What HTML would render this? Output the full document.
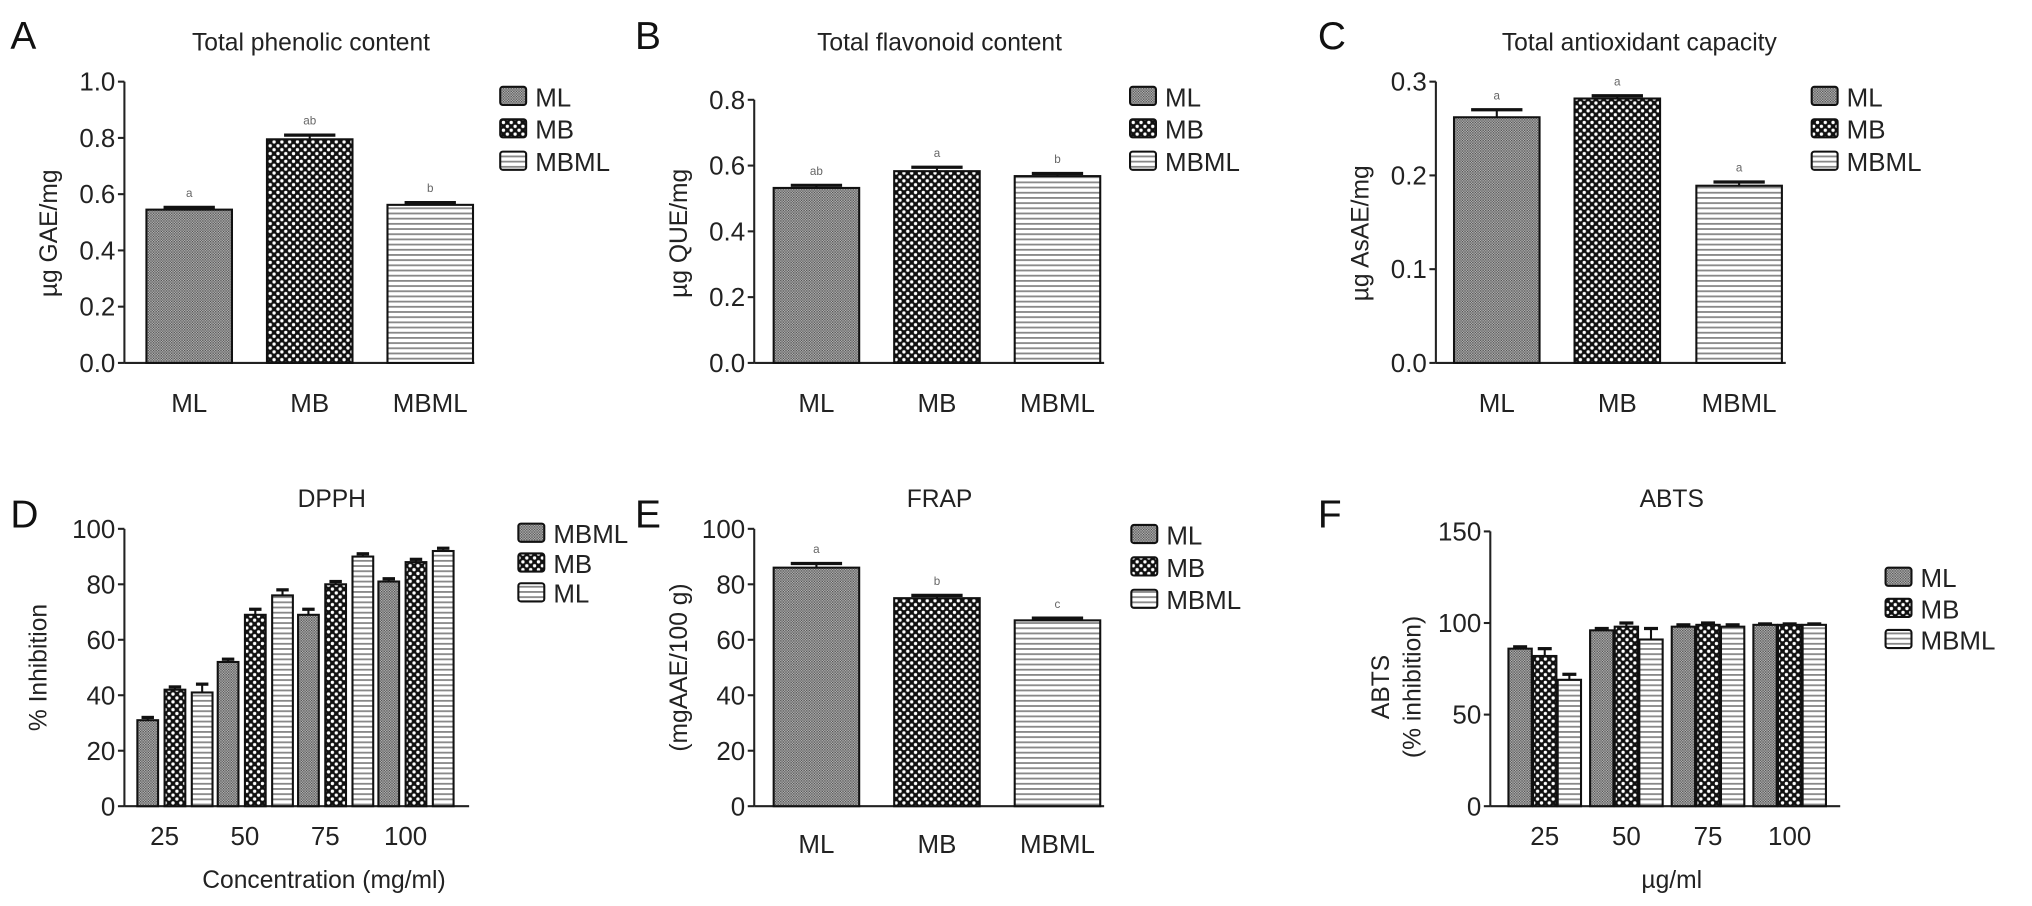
<!DOCTYPE html>
<html><head><meta charset="utf-8"><style>
html,body{margin:0;padding:0;background:#fff;}
svg{display:block;font-family:"Liberation Sans",Arial,sans-serif;}
</style></head><body>
<svg id="fig" width="2032" height="906" viewBox="0 0 1568 699" preserveAspectRatio="none" xmlns="http://www.w3.org/2000/svg">
<defs>
<pattern id="pML" width="2" height="2" patternUnits="userSpaceOnUse"><rect width="2" height="2" fill="#b0b0b0"/><rect width="1" height="1" fill="#555"/><rect x="1" y="1" width="1" height="1" fill="#666"/></pattern>
<pattern id="pMB" width="6" height="6" patternUnits="userSpaceOnUse"><rect width="6" height="6" fill="#111"/><circle cx="1.5" cy="1.5" r="1.3" fill="#fff"/><circle cx="4.5" cy="4.5" r="1.3" fill="#fff"/></pattern>
<pattern id="pMBML" width="4" height="4" patternUnits="userSpaceOnUse"><rect width="4" height="4" fill="#fff"/><rect y="0" width="4" height="1.4" fill="#888"/></pattern>
</defs>
</svg>
<script>
// Panel A
const catsA=["ML","MB","MBML"];
const valsA=[0.545,0.795,0.562];
const errA=[0.008,0.015,0.008];
const sigA=["a","ab","b"];
const ticksA=["0.0","0.2","0.4","0.6","0.8","1.0"];
// Panel B
const valsB=[0.532,0.583,0.568];
const errB=[0.008,0.012,0.008];
const sigB=["ab","a","b"];
const ticksB=["0.0","0.2","0.4","0.6","0.8"];
// Panel C
const valsC=[0.262,0.282,0.189];
const errC=[0.008,0.003,0.004];
const sigC=["a","a","a"];
const ticksC=["0.0","0.1","0.2","0.3"];
// Panel D
const concD=["25","50","75","100"];
const dMBML=[31,52,69,81];
const dMB=[42,69,80,88];
const dML=[41,76,90,92];
const errD=[[1,1,2,1],[1,2,1,1],[3,2,1,1]];
const ticksD=["0","20","40","60","80","100"];
// Panel E
const valsE=[86,75,67];
const errE=[1.5,1,0.8];
const sigE=["a","b","c"];
const ticksE=["0","20","40","60","80","100"];
// Panel F
const concF=["25","50","75","100"];
const fML=[86,96,98,99];
const fMB=[82,98,99,99];
const fMBML=[69,91,98,99];
const errF=[[1,1,1,0.5],[4,2,1,0.5],[3,6,1,0.5]];
const ticksF=["0","50","100","150"];

const svg=document.getElementById('fig');
const NS="http://www.w3.org/2000/svg";
function mk(tag,attrs,parent){const e=document.createElementNS(NS,tag);for(const k in attrs)e.setAttribute(k,attrs[k]);(parent||svg).appendChild(e);return e;}
function txt(s,x,y,size,anchor,parent,fill){const t=mk('text',{x:x,y:y,'font-size':size,'text-anchor':anchor||'middle',fill:fill||'#222'},parent);t.textContent=s;return t;}

function panel(o){
  const g=mk('g',{});
  
  
  const L=txt(o.letter,o.lx,o.ly,30,'start',g,'#111');
  
  
  const T=txt(o.title,o.tx,o.ty,19,'middle',g);
  
  
  const ys=v=>o.y0-(v-o.min)/(o.max-o.min)*(o.y0-o.y1);
  const ax=mk('line',{x1:o.ax,y1:o.y1,x2:o.ax,y2:o.y0,stroke:'#222','stroke-width':1.6},g);
  
  
  o.ticks.forEach(t=>{const v=parseFloat(t);const y=ys(v);
    mk('line',{x1:o.ax-5,y1:y,x2:o.ax,y2:y,stroke:'#222','stroke-width':1.6},g);
    const tl=txt(t,o.ax-7,y+7,20,'end',g);
    
    
  });
  const xl=mk('line',{x1:o.ax,y1:o.y0,x2:o.xend,y2:o.y0,stroke:'#222','stroke-width':1.6},g);
  
  
  o.ylabel.forEach((s,i)=>{const yt=txt(s,0,0,19,'middle',g);yt.setAttribute('transform','translate('+(o.ylx+i*24)+','+o.yly+') rotate(-90)');
    
    });
  if(o.xlabel){const xt=txt(o.xlabel,o.xlx,o.xly,19,'middle',g);
    
    }
  o.bars.forEach(b=>{
    const y=ys(b.v);
    const r=mk('rect',{x:b.x,y:y,width:b.w,height:o.y0-y,fill:'url(#'+b.p+')',stroke:'#111','stroke-width':1.6},g);
    
    
    const ye=ys(b.v+b.e);const cx=b.x+b.w/2;
    mk('line',{x1:cx,y1:y,x2:cx,y2:ye,stroke:'#111','stroke-width':1.6},g);
    mk('line',{x1:cx-b.w*0.3,y1:ye,x2:cx+b.w*0.3,y2:ye,stroke:'#111','stroke-width':2.5},g);
    if(b.s){const st=txt(b.s,cx,ye-8,9,'middle',g,'#666');}
  });
  o.cats.forEach(c=>{const ct=txt(c.t,c.x,o.catY,20,'middle',g);});
  o.legend.forEach((l,i)=>{const y=o.legY+i*o.legDy;
    const lg=mk('g',{},g);
    
    
    mk('rect',{x:o.legX,y:y-7,width:20,height:14,rx:2,fill:'url(#'+l.p+')',stroke:'#111','stroke-width':1.6},lg);
    txt(l.t,o.legX+27,y+8,20,'start',lg);
  });
}
const pats=["pML","pMB","pMBML"];
function simple(letter,name,title,lx,ax,vals,errs,sigs,ticks,max,y1,ylabel,bx,tx){
  panel({letter:letter,name:name,title:title,lx:lx,ly:38,tx:tx,ty:39,ax:ax,y0:280,y1:y1,min:0,max:max,ticks:ticks,xend:ax+270,
    ylabel:[ylabel],ylx:ax-52,yly:180,
    bars:vals.map((v,i)=>({x:bx[i],w:66,v:v,e:errs[i],s:sigs[i],p:pats[i],id:catsA[i].toLowerCase()})),
    cats:catsA.map((c,i)=>({t:c,x:bx[i]+33})),catY:318,
    legend:catsA.map((c,i)=>({t:c,p:pats[i]})),legX:ax+290,legY:74,legDy:25});
}
simple("A","panel-a-phenolic","Total phenolic content",8,96,valsA,errA,sigA,ticksA,1.0,63,"µg GAE/mg",[113,206,299],240);
simple("B","panel-b-flavonoid","Total flavonoid content",490,582,valsB,errB,sigB,ticksB,0.8,77,"µg QUE/mg",[597,690,783],725);
simple("C","panel-c-antioxidant","Total antioxidant capacity",1017,1108,valsC,errC,sigC,ticksC,0.3,63,"µg AsAE/mg",[1122,1215,1309],1265);

// D
(function(){
  const series=[dMBML,dMB,dML];const bars=[];
  concD.forEach((c,gi)=>{series.forEach((s,si)=>{bars.push({x:106+gi*62+si*21,w:16,v:s[gi],e:errD[si][gi],p:pats[si],id:'c'+c+'-'+si});});});
  panel({letter:"D",name:"panel-d-dpph",title:"DPPH",lx:8,ly:407,tx:256,ty:391,ax:96,y0:622,y1:408,min:0,max:100,ticks:ticksD,xend:362,
    ylabel:["% Inhibition"],ylx:36,yly:515,xlabel:"Concentration (mg/ml)",xlx:250,xly:685,
    bars:bars,cats:concD.map((c,gi)=>({t:c,x:127+gi*62})),catY:652,
    legend:[{t:"MBML",p:"pML"},{t:"MB",p:"pMB"},{t:"ML",p:"pMBML"}],legX:400,legY:411,legDy:23});
})();
// E
panel({letter:"E",name:"panel-e-frap",title:"FRAP",lx:490,ly:407,tx:725,ty:391,ax:582,y0:622,y1:408,min:0,max:100,ticks:ticksE,xend:852,
  ylabel:["(mgAAE/100 g)"],ylx:530,yly:515,
  bars:valsE.map((v,i)=>({x:[597,690,783][i],w:66,v:v,e:errE[i],s:sigE[i],p:pats[i],id:catsA[i].toLowerCase()})),
  cats:catsA.map((c,i)=>({t:c,x:[630,723,816][i]})),catY:658,
  legend:catsA.map((c,i)=>({t:c,p:pats[i]})),legX:873,legY:412,legDy:25});
// F
(function(){
  const series=[fML,fMB,fMBML];const bars=[];
  concF.forEach((c,gi)=>{series.forEach((s,si)=>{bars.push({x:1164+gi*63+si*19,w:18,v:s[gi],e:errF[si][gi],p:pats[si],id:'c'+c+'-'+si});});});
  panel({letter:"F",name:"panel-f-abts",title:"ABTS",lx:1017,ly:407,tx:1290,ty:391,ax:1150,y0:622,y1:410,min:0,max:150,ticks:ticksF,xend:1420,
    ylabel:["ABTS","(% inhibition)"],ylx:1072,yly:530,xlabel:"µg/ml",xlx:1290,xly:685,
    bars:bars,cats:concF.map((c,gi)=>({t:c,x:1192+gi*63})),catY:652,
    legend:catsA.map((c,i)=>({t:c,p:pats[i]})),legX:1455,legY:445,legDy:24});
})();
</script>
</body></html>
